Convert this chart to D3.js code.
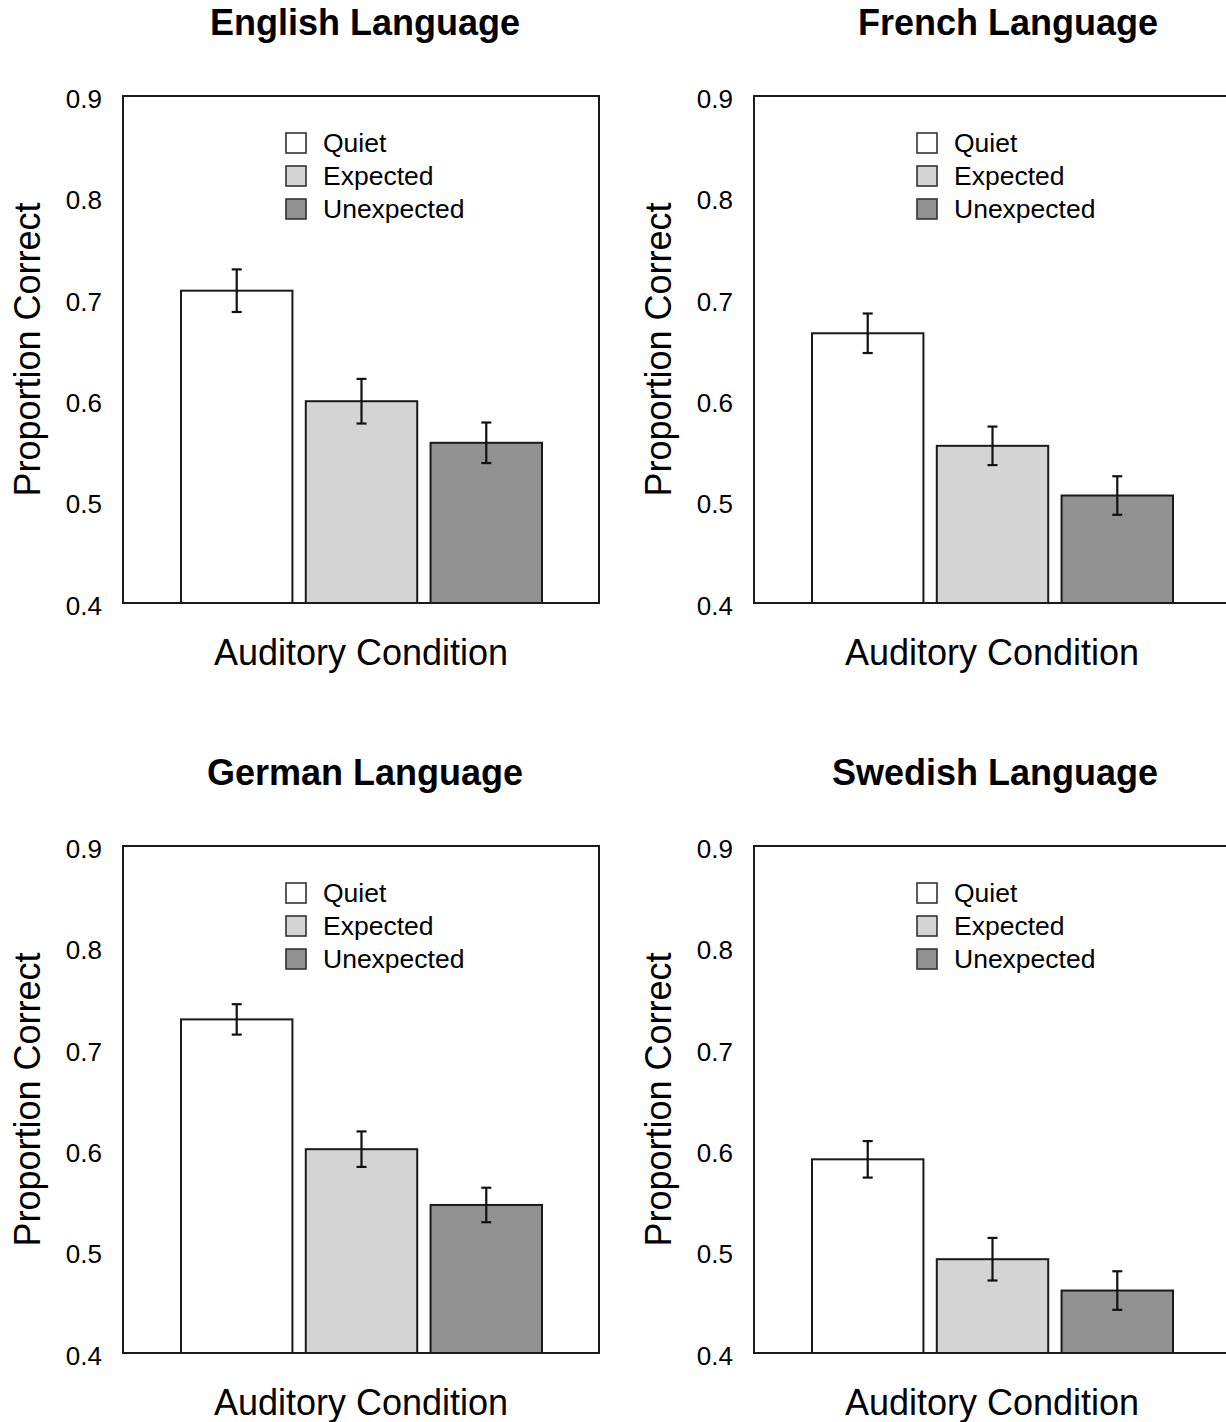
<!DOCTYPE html>
<html>
<head>
<meta charset="utf-8">
<script src="https://cdn.jsdelivr.net/npm/d3@7"></script>
<style>
  html, body { margin: 0; padding: 0; background: #fff; }
  svg { display: block; }
  text { font-family: "Liberation Sans", Arial, Helvetica, sans-serif; fill: #000; }
</style>
</head>
<body>
<svg id="chart" width="1226" height="1422"></svg>
<script>
// ---- data ----
const panelTitles = ["English Language", "French Language", "German Language", "Swedish Language"];
const conditions = ["Quiet", "Expected", "Unexpected"];
const englishMeans = [0.708, 0.599, 0.558];
const englishErrors = [0.021, 0.022, 0.020];
const frenchMeans = [0.666, 0.555, 0.506];
const frenchErrors = [0.0195, 0.019, 0.019];
const germanMeans = [0.729, 0.601, 0.546];
const germanErrors = [0.015, 0.0175, 0.017];
const swedishMeans = [0.591, 0.4925, 0.4616];
const swedishErrors = [0.018, 0.021, 0.019];
const yTickValues = [0.4, 0.5, 0.6, 0.7, 0.8, 0.9];
const yLabel = "Proportion Correct";
const xLabel = "Auditory Condition";

// ---- styling / layout ----
const fills = ["#ffffff", "#d4d4d4", "#919191"];
const plotW = 476, plotH = 507;
const layout = [
  { left: 123, top: 96,  titleX: 365 },
  { left: 754, top: 96,  titleX: 1008 },
  { left: 123, top: 846, titleX: 365 },
  { left: 754, top: 846, titleX: 995 }
];
const panelMeans = [englishMeans, frenchMeans, germanMeans, swedishMeans];
const panelErrors = [englishErrors, frenchErrors, germanErrors, swedishErrors];

const svg = d3.select("#chart");

const y = d3.scaleLinear().domain([0.4, 0.9]).range([plotH, 0]);
const x = d3.scaleBand().domain(conditions).range([58, 419]).paddingInner(0.107).paddingOuter(0);

panelTitles.forEach((title, i) => {
  const L = layout[i];
  const g = svg.append("g").attr("transform", `translate(${L.left},${L.top})`);

  // title
  svg.append("text")
    .attr("x", L.titleX).attr("y", L.top - 61)
    .attr("text-anchor", "middle")
    .style("font-size", "36px").style("font-weight", "bold")
    .text(title);

  // y axis tick labels (no tick marks)
  const yAxis = d3.axisLeft(y).tickValues(yTickValues).tickSize(0).tickPadding(21)
    .tickFormat(d3.format(".1f"));
  const ax = g.append("g").call(yAxis);
  ax.select(".domain").remove();
  ax.selectAll("text")
    .attr("dy", "0.36em")
    .attr("transform", "translate(0,2)")
    .style("font-size", "26px")
    .style("font-family", "'Liberation Sans', Arial, sans-serif")
    .attr("fill", "#000");

  // y label
  g.append("text")
    .attr("transform", `translate(-83,${plotH / 2}) rotate(-90)`)
    .attr("text-anchor", "middle")
    .style("font-size", "36px")
    .text(yLabel);

  // x label
  g.append("text")
    .attr("x", plotW / 2).attr("y", plotH + 62)
    .attr("text-anchor", "middle")
    .style("font-size", "36px")
    .text(xLabel);

  // bars
  const means = panelMeans[i], errs = panelErrors[i];
  const data = conditions.map((c, k) => ({ c, m: means[k], e: errs[k], k }));
  g.selectAll("rect.bar").data(data).enter().append("rect")
    .attr("class", "bar")
    .attr("x", d => x(d.c))
    .attr("y", d => y(d.m))
    .attr("width", x.bandwidth())
    .attr("height", d => y(0.4) - y(d.m))
    .attr("fill", d => fills[d.k])
    .attr("stroke", "#1a1a1a")
    .attr("stroke-width", 2);

  // error bars
  const eg = g.selectAll("g.err").data(data).enter().append("g").attr("class", "err")
    .attr("stroke", "#111").attr("stroke-width", 2.2);
  eg.append("line")
    .attr("x1", d => x(d.c) + x.bandwidth() / 2).attr("x2", d => x(d.c) + x.bandwidth() / 2)
    .attr("y1", d => y(d.m + d.e)).attr("y2", d => y(d.m - d.e));
  eg.append("line")
    .attr("x1", d => x(d.c) + x.bandwidth() / 2 - 5).attr("x2", d => x(d.c) + x.bandwidth() / 2 + 5)
    .attr("y1", d => y(d.m + d.e)).attr("y2", d => y(d.m + d.e));
  eg.append("line")
    .attr("x1", d => x(d.c) + x.bandwidth() / 2 - 5).attr("x2", d => x(d.c) + x.bandwidth() / 2 + 5)
    .attr("y1", d => y(d.m - d.e)).attr("y2", d => y(d.m - d.e));

  // frame
  g.append("rect")
    .attr("x", 0).attr("y", 0).attr("width", plotW).attr("height", plotH)
    .attr("fill", "none").attr("stroke", "#1a1a1a").attr("stroke-width", 2);

  // legend
  const lg = g.append("g").attr("transform", "translate(163,47)");
  conditions.forEach((c, k) => {
    lg.append("rect")
      .attr("x", 0).attr("y", k * 33 - 10)
      .attr("width", 20).attr("height", 20)
      .attr("fill", fills[k]).attr("stroke", "#333").attr("stroke-width", 1.6);
    lg.append("text")
      .attr("x", 37).attr("y", k * 33)
      .attr("dy", "0.35em")
      .style("font-size", "26.5px")
      .text(c);
  });
});
</script>
</body>
</html>
